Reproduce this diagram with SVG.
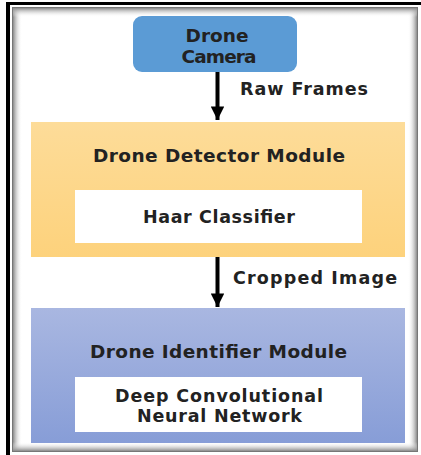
<svg xmlns="http://www.w3.org/2000/svg" width="421" height="455" viewBox="0 0 421 455">
  <style>
    .lbl { font-family: "DejaVu Sans", "Open Sans", sans-serif; font-weight: bold; fill: #222; text-anchor: middle; }
    .big { font-size: 18.5px; }
    .mid { font-size: 17.5px; }
    .wire { stroke: #000; stroke-width: 4; fill: none; }
  </style>
  <defs>
    <linearGradient id="orangeFill" x1="0" y1="0" x2="0" y2="1">
      <stop offset="0" stop-color="#fddc99"/>
      <stop offset="1" stop-color="#fdd27c"/>
    </linearGradient>
    <linearGradient id="blueFill" x1="0" y1="0" x2="0" y2="1">
      <stop offset="0" stop-color="#a9b7e1"/>
      <stop offset="1" stop-color="#879dd7"/>
    </linearGradient>
    <linearGradient id="shadeL" x1="0" y1="0" x2="1" y2="0">
      <stop offset="0" stop-color="#8a8a8a"/>
      <stop offset="1" stop-color="#ffffff" stop-opacity="0"/>
    </linearGradient>
    <linearGradient id="shadeR" x1="1" y1="0" x2="0" y2="0">
      <stop offset="0" stop-color="#8a8a8a"/>
      <stop offset="1" stop-color="#ffffff" stop-opacity="0"/>
    </linearGradient>
    <linearGradient id="shadeT" x1="0" y1="0" x2="0" y2="1">
      <stop offset="0" stop-color="#8a8a8a"/>
      <stop offset="1" stop-color="#ffffff" stop-opacity="0"/>
    </linearGradient>
    <linearGradient id="shadeB" x1="0" y1="1" x2="0" y2="0">
      <stop offset="0" stop-color="#8a8a8a"/>
      <stop offset="1" stop-color="#ffffff" stop-opacity="0"/>
    </linearGradient>
    <marker id="head" viewBox="0 0 10 10" refX="10" refY="5" markerWidth="4" markerHeight="3.4" markerUnits="strokeWidth" orient="auto">
      <path d="M0,0 L10,5 L0,10 Z" fill="#000"/>
    </marker>
  </defs>

  <!-- page frame with inset shading -->
  <g id="frame">
    <rect x="0" y="0" width="421" height="455" fill="#fff"/>
    <path d="M6,455 V2 H421 V5 H10 V455 Z" fill="#000"/>
    <rect x="12" y="7" width="406" height="445" fill="#fff"/>
    <rect x="13" y="8" width="9" height="443" fill="url(#shadeL)"/>
    <rect x="408" y="8" width="9" height="443" fill="url(#shadeR)"/>
    <rect x="13" y="8" width="404" height="9" fill="url(#shadeT)"/>
    <rect x="13" y="442" width="404" height="9" fill="url(#shadeB)"/>
    <rect x="12.5" y="7.5" width="405" height="444" fill="none" stroke="#777" stroke-width="1"/>
  </g>

  <g id="camera">
    <rect x="133" y="16" width="164" height="56" rx="9" fill="#5b9bd5"/>
    <text class="lbl big" x="217" y="42" textLength="63" lengthAdjust="spacing">Drone</text>
    <text class="lbl big" x="219" y="63" textLength="75" lengthAdjust="spacing">Camera</text>
  </g>

  <g id="detector">
    <rect x="31" y="122" width="374" height="135" fill="url(#orangeFill)"/>
    <text class="lbl big" x="219" y="162" textLength="252" lengthAdjust="spacing">Drone Detector Module</text>
    <rect x="75" y="190" width="287" height="53" fill="#fff"/>
    <text class="lbl mid" x="219" y="223" textLength="152" lengthAdjust="spacing">Haar Classifier</text>
  </g>

  <g id="identifier">
    <rect x="31" y="308" width="374" height="135" fill="url(#blueFill)"/>
    <text class="lbl big" x="218.5" y="358" textLength="257" lengthAdjust="spacing">Drone Identifier Module</text>
    <rect x="75" y="377" width="287" height="55" fill="#fff"/>
    <text class="lbl mid" x="219" y="402" textLength="208" lengthAdjust="spacing">Deep Convolutional</text>
    <text class="lbl mid" x="219.5" y="422" textLength="165" lengthAdjust="spacing">Neural Network</text>
  </g>

  <g id="connectors">
    <line class="wire" x1="217.5" y1="72" x2="217.5" y2="120" marker-end="url(#head)"/>
    <text class="lbl mid" x="304" y="95" textLength="128" lengthAdjust="spacing">Raw Frames</text>
    <line class="wire" x1="217.5" y1="257" x2="217.5" y2="307" marker-end="url(#head)"/>
    <text class="lbl mid" x="315" y="284" textLength="164" lengthAdjust="spacing">Cropped Image</text>
  </g>
</svg>
